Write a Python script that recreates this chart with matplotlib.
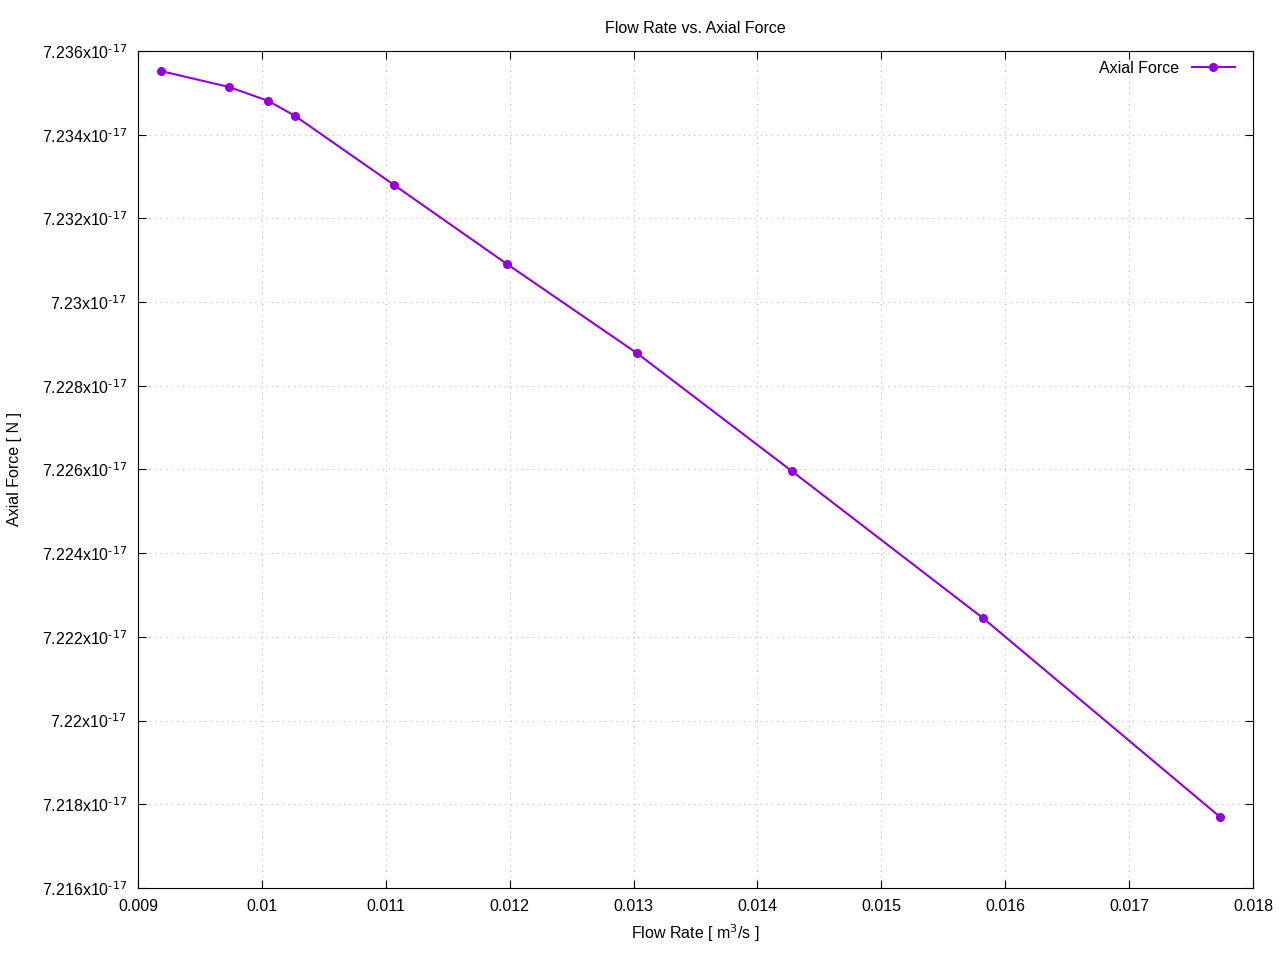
import numpy as np
import matplotlib.pyplot as plt
from matplotlib.ticker import FuncFormatter, FixedLocator

plt.rcParams['font.family'] = ['Liberation Sans', 'DejaVu Sans']

# Flow rate [m^3/s] vs axial force [N]
flow_rate = [0.009186, 0.009734, 0.010049, 0.010267, 0.011066, 0.011978,
             0.013027, 0.014278, 0.015820, 0.017733]
axial_force = [7.23552e-17, 7.23514e-17, 7.23481e-17, 7.23445e-17, 7.23280e-17,
               7.23091e-17, 7.22878e-17, 7.22596e-17, 7.22245e-17, 7.21770e-17]

x_ticks = np.arange(9, 19) * 0.001
y_ticks = np.arange(7216, 7237, 2) * 1e-20

color = "#9400D3"

fig = plt.figure(figsize=(12.8, 9.6), dpi=100)
ax = fig.add_axes([0.1078, 0.075, 0.8711, 0.8719])

ax.plot(flow_rate, axial_force, color=color, linewidth=1.5,
        marker="o", markersize=5.5, label="Axial Force")

ax.set_xlim(0.009, 0.018)
ax.set_ylim(7.216e-17, 7.236e-17)
ax.xaxis.set_major_locator(FixedLocator(x_ticks))
ax.yaxis.set_major_locator(FixedLocator(y_ticks))

ax.xaxis.set_major_formatter(FuncFormatter(lambda v, p: f"{round(v, 4):g}"))
ax.yaxis.set_major_formatter(
    FuncFormatter(lambda v, p: f"{round(v / 1e-17, 4):g}x10$^{{\\text{{-17}}}}$"))

ax.tick_params(direction="in", top=True, right=True, length=6,
               labelsize=11.5, pad=8)
ax.grid(True, linestyle=(0, (1, 4)), color="#bbbbbb", linewidth=0.8)

ax.set_title("Flow Rate vs. Axial Force", fontsize=11.5, pad=13)
ax.set_xlabel("Flow Rate [ m$^3$/s ]", fontsize=11.5, labelpad=6)
ax.set_ylabel("Axial Force [ N ]", fontsize=11.5)
ax.yaxis.set_label_coords(-0.104, 0.5)

ax.legend(loc="upper right", frameon=False, markerfirst=False,
          fontsize=11.5, handlelength=2.7, borderaxespad=0.6,
          bbox_to_anchor=(1 - 2 / 1115, 1 + 6 / 837))

fig.savefig("out.png", dpi=100)
